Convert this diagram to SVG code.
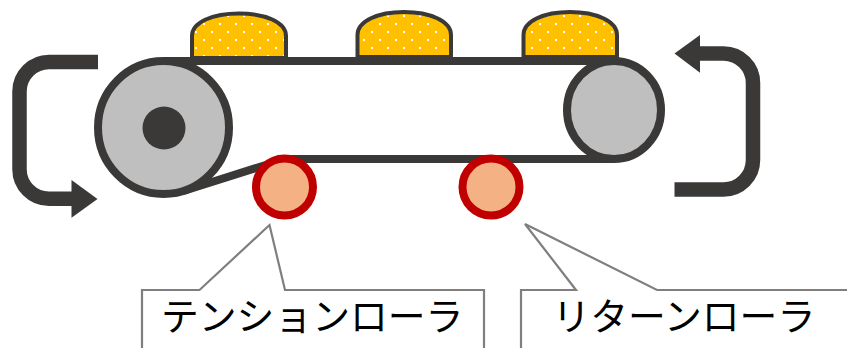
<svg xmlns="http://www.w3.org/2000/svg" width="847" height="348" viewBox="0 0 847 348">
<style>
.belt{fill:none;stroke:#3b3838;stroke-width:8}
.bump{fill:url(#dots);stroke:#3b3838;stroke-width:4}
.drum{fill:#bfbfbf;stroke:#3b3838;stroke-width:8}
.roller{fill:#f4b183;stroke:#c00000;stroke-width:8}
.turn{fill:none;stroke:#3b3838;stroke-width:14.500}
.head{fill:#3b3838}
.call{fill:#fff;stroke:#7f7f7f;stroke-width:2.2}
.label{font-family:"Noto Sans CJK JP","Noto Sans",sans-serif;font-size:37.8px;fill:#000}
</style>
<defs>
<pattern id="dots" patternUnits="userSpaceOnUse" width="16" height="16">
<rect width="16" height="16" fill="#ffc000"/>
<rect x="3" y="-1" width="2" height="2" fill="#fff"/>
<rect x="3" y="15" width="2" height="2" fill="#fff"/>
<rect x="11" y="7" width="2" height="2" fill="#fff"/>
</pattern>
</defs>
<g id="connectors">
<path class="turn" d="M98 62H49A29.500 29.500 0 0 0 19.500 91.500V169.200A29.500 29.500 0 0 0 49 198.700H75"/>
<polygon class="head" points="71.500,180 97.500,199 71.500,217.700"/>
<path class="turn" d="M674.500 189.500H723.500A29.500 29.500 0 0 0 753 160V83A29.500 29.500 0 0 0 723.500 53.500H697"/>
<polygon class="head" points="700,35 674.500,53.500 700,72.700"/>
</g>
<g id="bump-1"><path class="bump" d="M192 58V36C192 22 213 13.500 239 13.500S286 22 286 36V58Z"/></g>
<g id="bump-2"><path class="bump" d="M357.500 57V35C357.500 21 378 12 404 12S451 21 451 35V57Z"/></g>
<g id="bump-3"><path class="bump" d="M523.500 57V35C523.500 21 544 12 570 12S617 21 617 35V57Z"/></g>
<g id="belt"><path class="belt" d="M163.500 61H614M614 159H285M183.500 191L272 163"/></g>
<g id="drive-drum"><ellipse class="drum" cx="163.500" cy="127.500" rx="65.500" ry="66.500"/><circle cx="164" cy="128" r="21.500" fill="#3b3838"/></g>
<g id="end-drum"><ellipse class="drum" cx="614" cy="110" rx="47" ry="49"/></g>
<g id="tension-roller"><circle class="roller" cx="284.500" cy="187" r="28.500"/></g>
<g id="return-roller"><circle class="roller" cx="491" cy="187" r="28.500"/></g>
<g id="tension-label">
<path class="call" d="M142 349V290H199.500L269.500 225L285 290H484V349"/>
<text class="label" x="161" y="330">テンションローラ</text>
</g>
<g id="return-label">
<path class="call" d="M521 349V290H576L525 224L657 290H848"/>
<text class="label" x="552.500" y="330">リターンローラ</text>
</g>
</svg>
